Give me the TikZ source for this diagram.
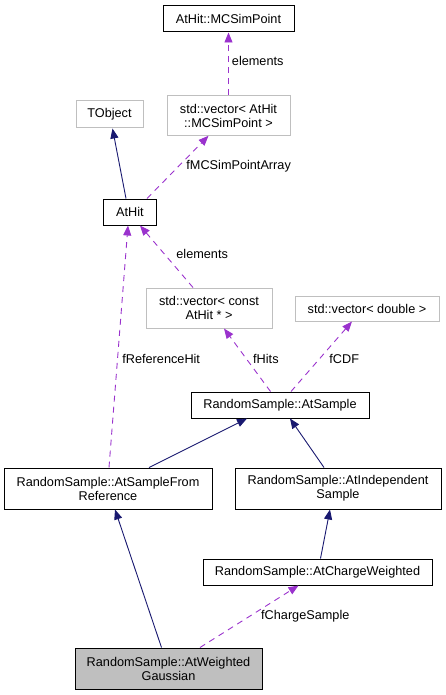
\documentclass[tikz,border=0pt]{standalone}
\usepackage{fontspec}
\setmainfont{Liberation Sans}
\usepackage{xcolor}
\usetikzlibrary{arrows.meta, positioning}
\definecolor{edgeblue}{HTML}{191970}
\definecolor{edgepurple}{HTML}{9A32CD}
\definecolor{boxgrey}{HTML}{BFBFBF}

\begin{document}
\begin{tikzpicture}[x=1pt, y=-1pt,
    font=\fontsize{12.7}{14}\selectfont,
    classbox/.style={draw=black, line width=1pt, rectangle, align=center, inner sep=0pt, minimum height=26pt},
    extbox/.style={draw=boxgrey, line width=1pt, rectangle, align=center, inner sep=0pt, minimum height=26pt},
    inherit/.style={-{Triangle[length=10pt, width=8pt]}, edgeblue, line width=0.9pt},
    member/.style={-{Triangle[length=10pt, width=8pt]}, edgepurple, line width=0.9pt, dash pattern=on 6pt off 5pt},
    lbl/.style={anchor=west, inner sep=0pt, text=black, text height=1.5ex, text depth=0.3ex}]
    \useasboundingbox (0,0) rectangle (445,695);

    % Boxes, top to bottom
    \node[classbox, minimum width=131pt] (mcsim) at (228.5,19) {AtHit::MCSimPoint};
    \node[extbox, minimum width=123pt, minimum height=39.5pt] (vecmcsim) at (228.5,115.5) {std::vector< AtHit\\::MCSimPoint >};
    \node[extbox, minimum width=67pt, minimum height=27pt] (tobject) at (109.5,114.5) {TObject};
    \node[classbox, minimum width=53pt] (athit) at (130,212) {AtHit};
    \node[extbox, minimum width=126pt, minimum height=40pt] (vecconst) at (209,308) {std::vector< const\\AtHit * >};
    \node[extbox, minimum width=144pt, minimum height=25pt] (vecdouble) at (367,308.5) {std::vector< double >};
    \node[classbox, minimum width=178pt] (atsample) at (280,405) {RandomSample::AtSample};
    \node[classbox, minimum width=208pt, minimum height=41pt] (samplefrom) at (108,488.5) {RandomSample::AtSampleFrom\\Reference};
    \node[classbox, minimum width=206pt, minimum height=41pt] (independent) at (338,488.5) {RandomSample::AtIndependent\\Sample};
    \node[classbox, minimum width=229pt] (charge) at (317.5,572) {RandomSample::AtChargeWeighted};
    \node[classbox, fill=boxgrey, minimum width=187pt, minimum height=41pt] (gaussian) at (168.5,668.5) {RandomSample::AtWeighted\\Gaussian};

    % Member links (dashed)
    \draw[member] (vecmcsim.north) -- (mcsim.south) node[lbl, pos=0.53, xshift=3pt] {elements};
    \draw[member] ([xshift=17pt]athit.north) -- ([xshift=-20pt]vecmcsim.south) node[lbl, pos=0.52, xshift=7pt] {fMCSimPointArray};
    \draw[member] ([xshift=-16pt]vecconst.north) -- ([xshift=10pt]athit.south) node[lbl, pos=0.52, xshift=10.5pt] {elements};
    \draw[member] ([xshift=1pt]samplefrom.north) -- ([xshift=-2pt]athit.south) node[lbl, pos=0.444, xshift=4.5pt] {fReferenceHit};
    \draw[member] ([xshift=-9.5pt]atsample.north) -- ([xshift=15pt]vecconst.south) node[lbl, pos=0.5, xshift=5.5pt] {fHits};
    \draw[member] ([xshift=11pt]atsample.north) -- ([xshift=-15pt]vecdouble.south) node[lbl, pos=0.45, xshift=10.5pt] {fCDF};
    \draw[member] ([xshift=31.5pt]gaussian.north) -- ([xshift=-19pt]charge.south) node[lbl, pos=0.51, xshift=10.5pt] {fChargeSample};

    % Inheritance links (solid)
    \draw[inherit] ([xshift=-4pt]athit.north) -- ([xshift=3pt]tobject.south);
    \draw[inherit] ([xshift=41pt]samplefrom.north) -- ([xshift=-33pt]atsample.south);
    \draw[inherit] ([xshift=-14pt]independent.north) -- ([xshift=10pt]atsample.south);
    \draw[inherit] ([xshift=-7pt]gaussian.north) -- ([xshift=7pt]samplefrom.south);
    \draw[inherit] ([xshift=3pt]charge.north) -- ([xshift=-8pt]independent.south);
\end{tikzpicture}
\end{document}
